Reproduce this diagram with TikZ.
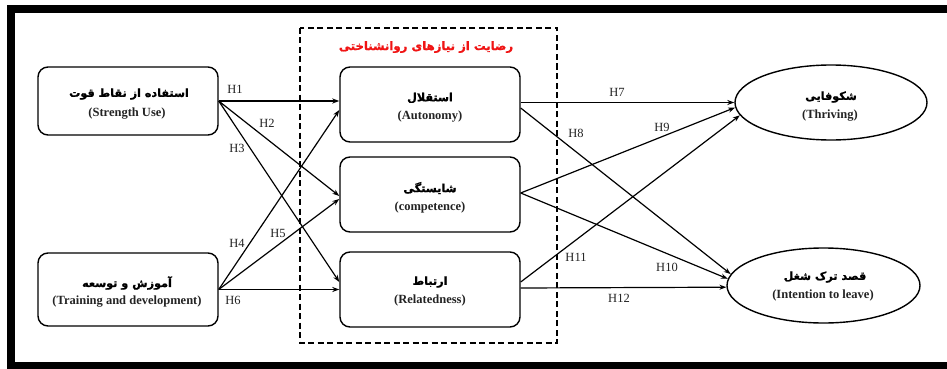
\documentclass[tikz,border=0pt]{standalone}
\usepackage{fontspec}
\setmainfont{Liberation Serif}
\newfontfamily\fa[Script=Arabic,FakeBold=1.2]{DejaVu Sans}
\TeXXeTstate=1
\usetikzlibrary{arrows.meta,calc,shapes.geometric}
\definecolor{txt}{RGB}{35,35,35}
\definecolor{titlered}{RGB}{240,20,20}
\begin{document}
\begin{tikzpicture}[x=1pt,y=-1pt,
  box/.style={draw=black, line width=1.4pt, rounded corners=10pt, minimum width=180pt, inner sep=0pt},
  ell/.style={draw=black, line width=1.4pt, ellipse, inner sep=0pt},
  fatxt/.style={font=\fa\bfseries\fontsize{11.2}{13}\selectfont, text=black, inner sep=0pt},
  entxt/.style={font=\bfseries\fontsize{12.5}{14}\selectfont, text=txt, inner sep=0pt},
  hlab/.style={font=\fontsize{12.5}{14}\selectfont, text=txt, inner sep=0pt},
  conn/.style={line width=1.2pt, -{Stealth[length=7pt,width=5pt]}}
]
\useasboundingbox (0,0) rectangle (947,369);
\fill[white] (0,0) rectangle (947,369);
% outer frame
\fill[black] (7,5) rectangle (947,13);
\fill[black] (7,5) rectangle (15,369);
\fill[black] (7,362) rectangle (947,369);

% dashed group
\draw[line width=2pt, dash pattern=on 6pt off 3.5pt] (300,28) rectangle (557,343);
\node[font=\fa\bfseries\fontsize{11.7}{14}\selectfont, text=titlered, inner sep=0pt] (title) at (426,47) {\beginR رضایت از نیازهای روانشناختی\endR};

% boxes
\node[box, minimum height=68pt] (str) at (128,101) {};
\node[box, minimum height=73pt] (trn) at (128,289.5) {};
\node[box, minimum height=75pt] (aut) at (430,104.5) {};
\node[box, minimum height=75pt] (com) at (430,194.5) {};
\node[box, minimum height=75pt] (rel) at (430,289.5) {};
\node[ell, minimum width=192pt, minimum height=75pt] (thr) at (831,102.5) {};
\node[ell, minimum width=193pt, minimum height=75pt] (int) at (823.5,285.5) {};

% texts
\node[fatxt] (strfa) at (129,94) {\beginR استفاده از نقاط قوت\endR};
\node[entxt] (stren) at (127,114) {(Strength Use)};
\node[fatxt] (trnfa) at (127,283) {\beginR آموزش و توسعه\endR};
\node[entxt] (trnen) at (127,302) {(Training and development)};
\node[fatxt] (autfa) at (430,98) {\beginR استقلال\endR};
\node[entxt] (auten) at (430,117) {(Autonomy)};
\node[fatxt] (comfa) at (430,188) {\beginR شایستگی\endR};
\node[entxt] (comen) at (430,207) {(competence)};
\node[fatxt] (relfa) at (430,282) {\beginR ارتباط\endR};
\node[entxt] (relen) at (430,300) {(Relatedness)};
\node[fatxt] (thrfa) at (831,97) {\beginR شکوفایی\endR};
\node[entxt] (thren) at (830,116) {(Thriving)};
\node[fatxt] (intfa) at (825,277) {\beginR قصد ترک شغل\endR};
\node[entxt] (inten) at (823,295) {(Intention to leave)};

% connectors left
\draw[conn] (str.east) -- ($(aut.west)+(0,-3.5)$);
\draw[conn] (str.east) -- ($(com.west)+(0,1.5)$);
\draw[conn] (str.east) -- ($(rel.west)+(0,-7.5)$);
\draw[conn] (trn.east) -- ($(aut.west)+(0,5.5)$);
\draw[conn] (trn.east) -- ($(com.west)+(0,4.5)$);
\draw[conn] (trn.east) -- (rel.west);
% connectors right
\draw[conn] ($(aut.east)+(0,-2)$) -- (thr.west);
\draw[conn] ($(aut.east)+(0,3.5)$) -- (int.173.5);
\draw[conn] ($(com.east)+(0,-1.5)$) -- (thr.183);
\draw[conn] ($(com.east)+(0,-1.5)$) -- (int.176.7);
\draw[conn] ($(rel.east)+(0,-7.5)$) -- (thr.188);
\draw[conn] ($(rel.east)+(0,-1.5)$) -- (int.181.5);

% labels
\node[hlab] (h1) at (235,89) {H1};
\node[hlab] (h2) at (267,123) {H2};
\node[hlab] (h3) at (237,148) {H3};
\node[hlab] (h4) at (237,243) {H4};
\node[hlab] (h5) at (278,233) {H5};
\node[hlab] (h6) at (233,300) {H6};
\node[hlab] (h7) at (617,92) {H7};
\node[hlab] (h8) at (576,133) {H8};
\node[hlab] (h9) at (662,127) {H9};
\node[hlab] (h10) at (667,267) {H10};
\node[hlab] (h11) at (576,257) {H11};
\node[hlab] (h12) at (619,298) {H12};
\end{tikzpicture}
\end{document}
